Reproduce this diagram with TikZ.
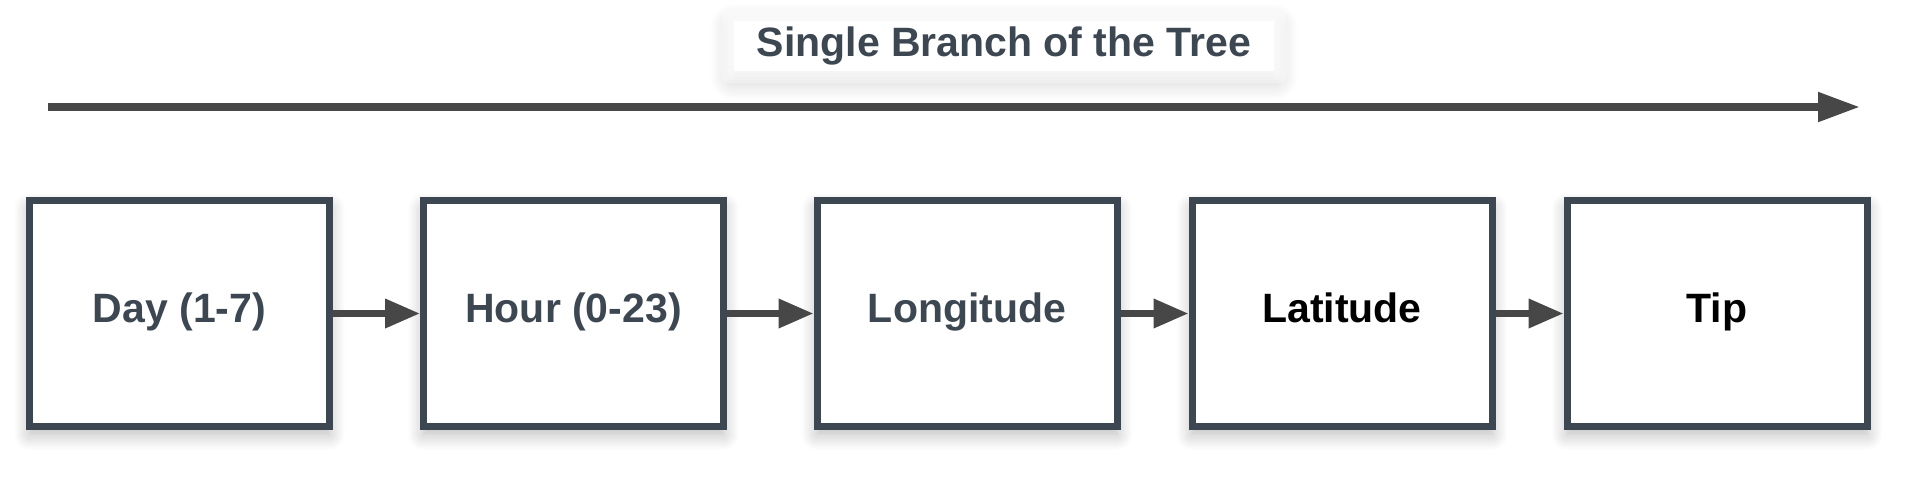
\documentclass[tikz,border=0pt]{standalone}
\usepackage{fontspec}
\setmainfont{Liberation Sans}
\usetikzlibrary{arrows.meta,shadows.blur}
\definecolor{slate}{HTML}{3D4752}
\definecolor{arrowgray}{HTML}{474747}
\tikzset{
  stagebox/.style={draw=slate, line width=7pt, fill=white, minimum width=300pt, minimum height=226pt,
    inner sep=0pt, text height=28pt, text depth=11pt,
    font=\fontsize{41}{49}\selectfont\bfseries,
    blur shadow={shadow xshift=0pt, shadow yshift=-8pt, shadow blur radius=16pt, shadow opacity=28, shadow blur steps=12}},
  link/.style={draw=arrowgray, line width=7pt, -{Triangle[length=35pt,width=28pt]}},
  axis/.style={draw=arrowgray, line width=8pt, -{Triangle[length=42pt,width=28pt]}},
  titlebg/.style={fill=white, inner sep=0pt, minimum width=540pt, minimum height=50pt,
    blur shadow={shadow xshift=0pt, shadow yshift=-6pt, shadow blur radius=24pt, shadow opacity=24, shadow blur steps=14}},
  haze/.style={fill=white, fill opacity=0.3, draw=none, rounded corners=6pt},
  titletext/.style={text=slate, font=\fontsize{41}{49}\selectfont\bfseries, inner sep=0pt, anchor=base}
}
\begin{document}
\begin{tikzpicture}[x=1pt,y=-1pt]
\useasboundingbox (0,0) rectangle (1920,488);
\node[titlebg] (tbg) at (1004,46) {};
\foreach \d in {3,6,9,12} {
  \fill[haze] ([xshift=-\d pt, yshift=\d pt]tbg.north west) rectangle ([xshift=\d pt, yshift=-\d pt]tbg.south east);
}
\node[titletext] (title) at (1004,56) {Single Branch of the Tree};
\coordinate (axs) at (48,107);
\coordinate (axe) at (1860,107);
\draw[axis] (axs) -- (axe);
\node[stagebox, text=slate] (day) at (179.5,313.5) {Day (1-7)};
\node[stagebox, text=slate] (hour) at (573.5,313.5) {Hour (0-23)};
\node[stagebox, text=slate] (lon) at (967,313.5) {Longitude};
\node[stagebox, text=black] (lat) at (1342,313.5) {Latitude};
\node[stagebox, text=black] (tip) at (1717,313.5) {Tip};
\draw[link] (day.east) -- (hour.west);
\draw[link] (hour.east) -- (lon.west);
\draw[link] (lon.east) -- (lat.west);
\draw[link] (lat.east) -- (tip.west);
\end{tikzpicture}
\end{document}
